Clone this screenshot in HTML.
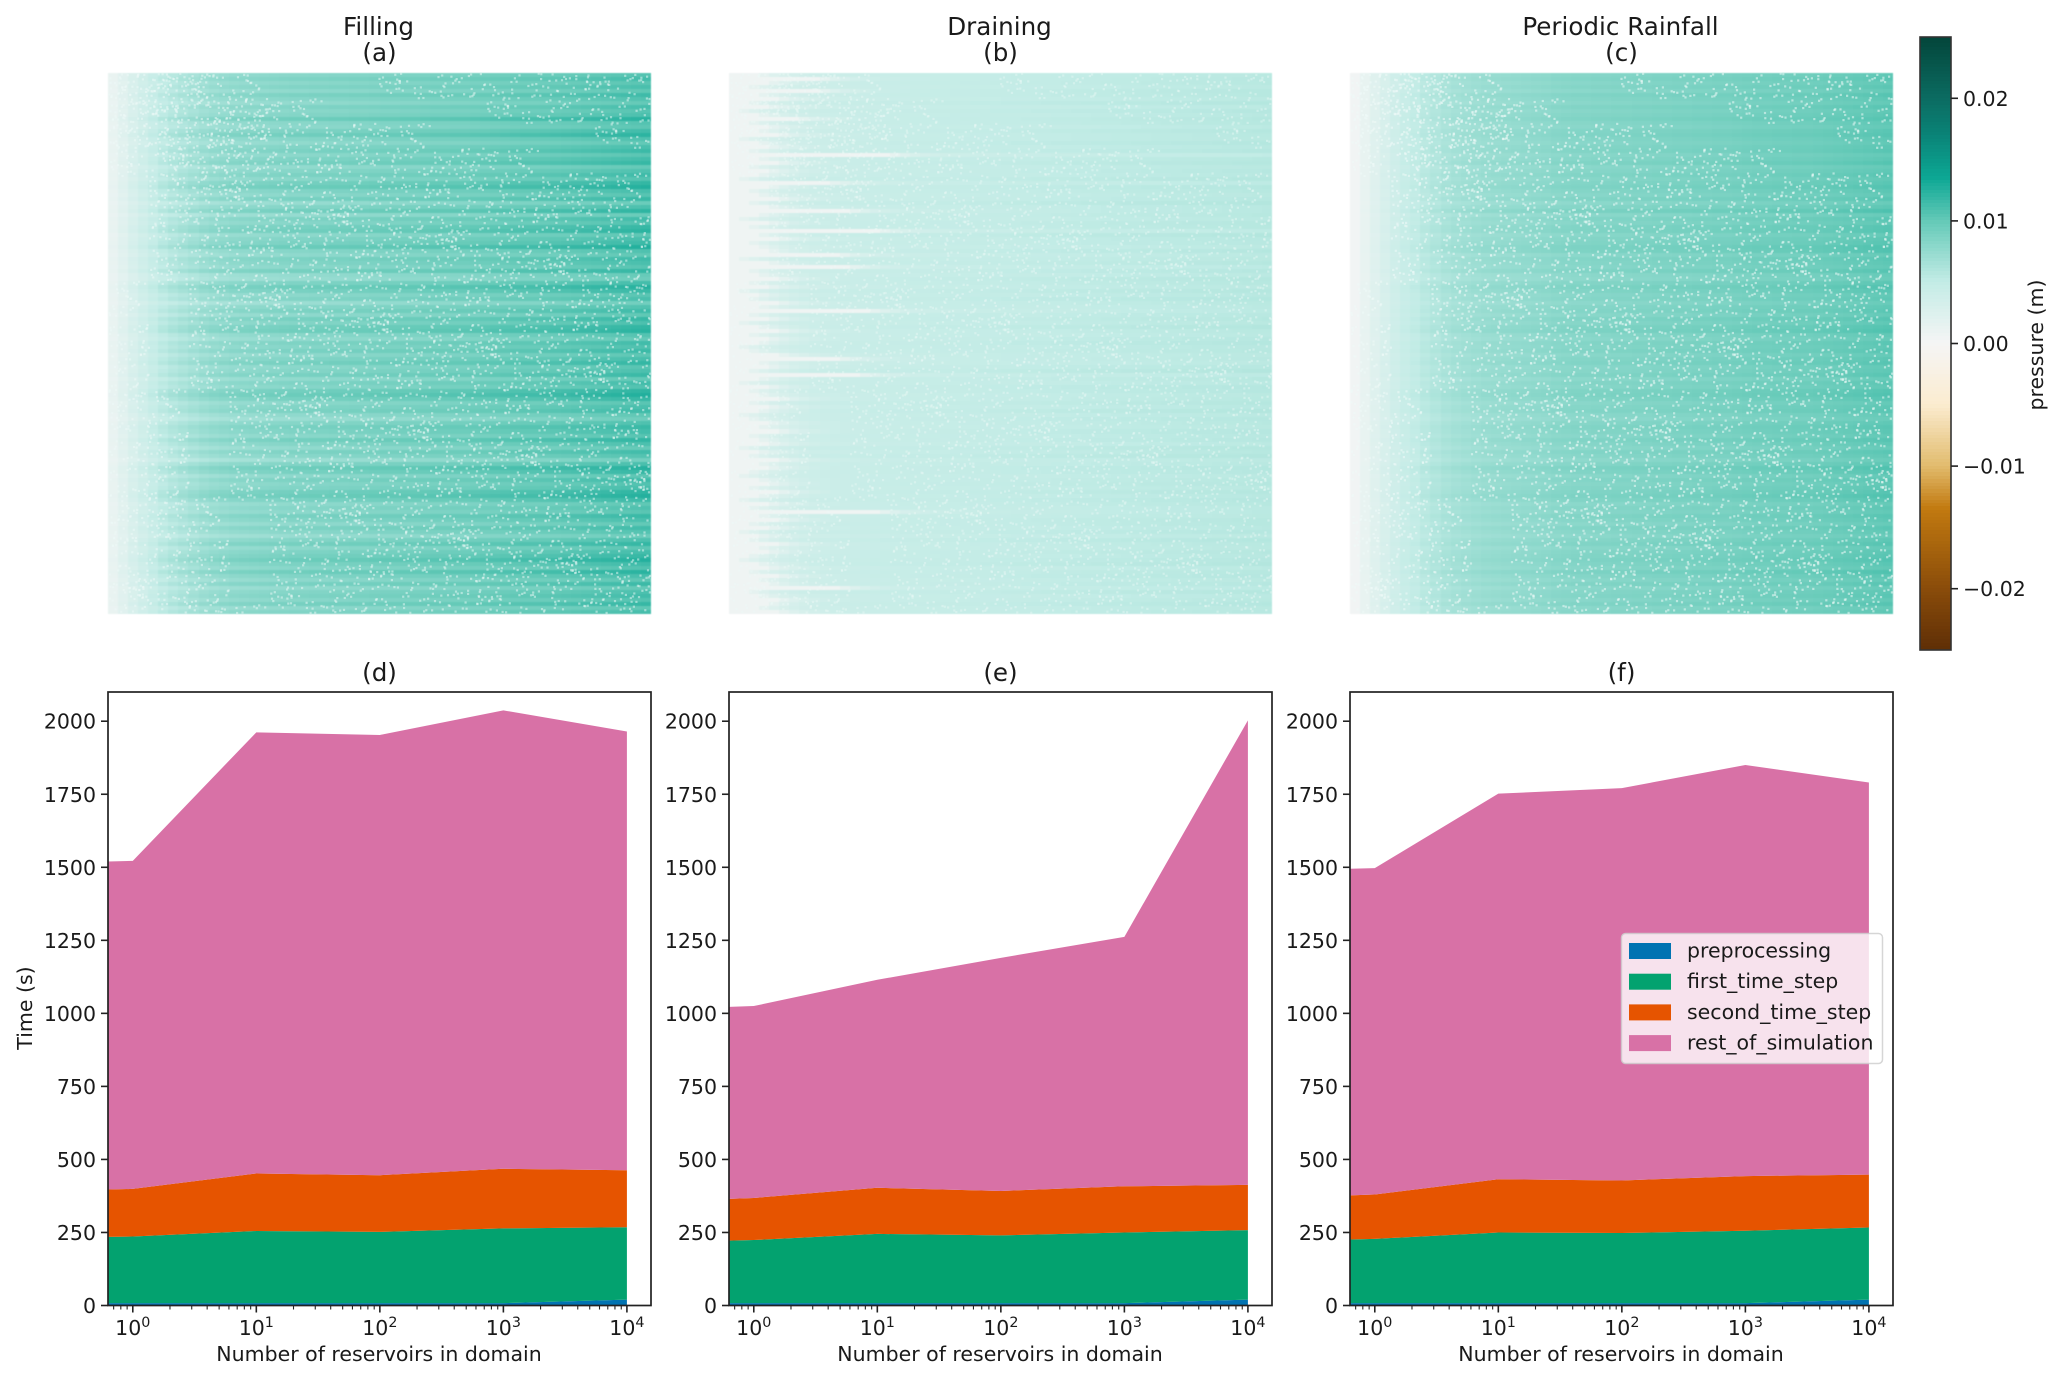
<!DOCTYPE html>
<html lang="en">
<head>
<meta charset="utf-8">
<title>Reservoir pressure and run time</title>
<style>
html,body{margin:0;padding:0;background:#fff;width:2067px;height:1380px;overflow:hidden}
svg{display:block;position:absolute;left:0;top:0}
text{font-family:"DejaVu Sans","Liberation Sans",sans-serif;fill:#1a1a1a}
</style>
</head>
<body>
<svg id="figure" xmlns="http://www.w3.org/2000/svg" width="2067" height="1380" viewBox="0 0 2067 1380"></svg>
<script>
/* ---------- stack chart data ---------- */
const reservoirCounts = [0.63, 1, 10, 100, 1000, 10000];
const seriesNames = ["preprocessing", "first_time_step", "second_time_step", "rest_of_simulation"];
const seriesColors = ["#0173b2", "#03a26f", "#e65400", "#d871a6"];
const fillingPreprocessing = [8, 8, 8, 8, 8, 20];
const fillingFirstStep = [227, 228, 247, 244, 256, 248];
const fillingSecondStep = [162, 163, 197, 194, 204, 195];
const fillingRest = [1123, 1123, 1510, 1507, 1569, 1502];
const drainingPreprocessing = [8, 8, 8, 8, 8, 20];
const drainingFirstStep = [214, 216, 237, 232, 242, 238];
const drainingSecondStep = [143, 144, 158, 152, 158, 155];
const drainingRest = [657, 657, 712, 798, 854, 1590];
const rainfallPreprocessing = [8, 8, 8, 8, 8, 20];
const rainfallFirstStep = [218, 220, 242, 240, 248, 247];
const rainfallSecondStep = [151, 152, 182, 180, 187, 181];
const rainfallRest = [1118, 1117, 1320, 1343, 1407, 1342];
const timeTicks = [0, 250, 500, 750, 1000, 1250, 1500, 1750, 2000];
const decadeTicks = [0, 1, 2, 3, 4];
const panelTitlesTop = ["Filling", "Draining", "Periodic Rainfall"];
const panelLettersTop = ["(a)", "(b)", "(c)"];
const panelLettersBottom = ["(d)", "(e)", "(f)"];

/* ---------- heatmap data: pressure, in units of 0.0001 m ---------- */
const fillingColumnProfile = [12,20,29,37,45,52,57,61,65,69,72,74,76,77,78,79,80,81,82,82,83,83,84,84,85,85,86,87,87,88,88,89,90,90,91,91,92,93,94,95,96,97,97,98,99,100,101,102,103,104,105,106,107,108];
const drainingColumnProfile = [6,16,24,30,34,37,40,41,42,43,44,44,45,45,46,46,46,47,47,47,48,48,48,49,49,49,50,50,50,50,51,51,51,51,52,52,52,52,53,53,53,53,54,54,54,54,55,55,55,55,56,56,56,56];
const rainfallColumnProfile = [4,13,22,30,38,45,50,55,59,63,66,68,70,72,73,74,75,76,77,78,80,81,82,82,83,83,84,84,85,85,86,86,87,87,88,88,89,89,90,91,92,92,93,93,94,94,95,96,97,98,99,100,101,102];
const fillingRowGain = [96,108,92,104,88,112,98,84,106,94,102,128,96,90,110,126,100,86,104,114,92,108,118,84,100,112,96,120,132,106,94,116,78,102,124,80,110,98,118,126,90,106,114,134,100,88,112,104,94,120,82,76,108,130,116,92,104,72,98,112,88,118,102,122,128,96,84,110,100,114,90,106,120,94,102,116,86,108,98,124,134,118,92,104,112,88,74,100,116,108,94,122,102,84,110,96,70,104,130,118,90,112,98,106,124,132,114,88,100,92,116,104,86,110,96,76,102,120,92,108,118,132,112,98,128,106,90,114,84,102,110,96,118,88,106];
const drainingRowGain = [98,102,100,96,104,100,98,103,97,101,99,104,100,97,102,100,98,103,99,101,96,100,104,98,101,99,102,97,103,100,98,101,104,99,103,100,97,102,100,98,104,101,99,96,103,100,98,102,99,101,97,104,100,98,102,99,103,100,97,101,99,102,98,104,100,97,101,103,99,100,98,102,96,101,104,99,100,97,103,101,98,100,102,99,104,97,101,100,98,103,99,101,97,102,100,104,98,99,103,101,97,100,102,98,104,99,101,100,97,103,98,102,100,99,101,96,103,100,98,102,99,101,104,97,100,103,98,101,99,102,97,100,103,98,101];
const rainfallRowGain = [99,102,97,101,95,104,100,96,103,98,101,105,99,96,102,104,100,97,101,103,96,100,105,95,99,103,98,102,106,101,97,103,93,100,109,94,102,98,104,105,96,101,103,108,107,95,102,100,97,104,94,92,101,107,103,97,100,93,99,102,96,104,99,105,108,98,95,102,100,103,96,101,104,97,99,103,94,101,98,105,107,103,96,100,102,95,92,99,103,101,97,104,99,94,102,98,92,100,108,104,96,102,98,101,104,108,103,95,100,97,103,100,94,102,98,93,100,104,96,101,103,106,102,98,108,101,96,103,94,100,102,97,104,95,100];
const drainingRowLag = [2,8,3,1,8,2,4,1,3,0,2,6,1,3,2,4,0,2,3,1,15,2,4,1,3,2,0,9,3,1,2,4,1,3,11,2,0,3,1,14,2,4,1,2,3,10,0,3,11,1,2,4,1,3,0,2,1,4,2,13,1,3,0,2,4,1,3,2,0,1,4,10,2,3,1,12,2,0,3,1,2,4,1,3,2,0,1,3,2,4,1,2,3,0,2,1,4,2,3,1,0,2,3,1,4,2,0,3,1,14,2,4,1,3,0,2,1,4,2,3,1,0,2,3,1,4,2,3,10,1,2,4,3,2,4];
const missingCellColumns = [12,871,334,590,146,722,455,963,208,639,77,518,801,290,946,393,684,33,557,176,829,432,715,268,604,91,987,360,743,125,486,912,245,668,51,539,790,312,878,421,159,633,26,975,374,706,483,851,219,566,104,757,342,925,61,611,290,838,178,505,693,402,944,17,532,265,780,138,619,896,349,471,68,735,203,580,998,312,656,440,119,827,521,38,762,286,907,165,643,383,504,84,951,228,698,347,815,142,572,431,7,889,264,620,733,196,468,920,55,345,677,513,246,804,109,382,590,956,22,721,157,449,866,304,638,92,532,779,213,994,417,660,131,348,885,46,599,263,748,476,168,912,325,71,626,838,234,553,395,703,19,981,282,514,857,121,669,438,772,207,330,940,64,586,801,173,492,726,251,619,36,968,407,845,118,544,691,296,923,370,83,615,459,789,189,527,974,338,652,14,866,223,741,401,150,578,907,275,490,697,58,824,362,611,134,936,248,753,425,99,564,880,313,675,201,508,43,792,956,377,144,629,861,270,535,711,87,419,903,183,648,321,769,452,26,592,834,238,986,116];
const missingCellRows = [44,913,271,608,152,756,389,27,841,493,665,118,962,330,574,206,799,431,71,912,268,643,505,15,736,183,877,352,590,949,96,421,688,237,806,525,143,374,979,61,714,298,867,446,128,601,934,253,772,39,516,849,170,687,408,991,226,563,82,745,324,898,471,137,659,20,813,384,547,952,205,696,109,431,838,275,620,54,977,349,726,168,503,889,242,615,9,781,436,322,941,187,558,74,860,293,672,415,118,754,527,966,31,345,821,199,637,476,88,905,262,591,723,149,384,998,47,680,216,835,529,103,452,767,318,926,65,584,241,871,162,699,410,953,35,507,788,126,634,283,866,473,12,741,356,592,928,194,655,79,819,440,267,546,983,131,703,371,24,856,488,619,225,937,98,764,339,571,182,895,423,646,57,792,308,514,970,141,683,251,848,400,6,727,533,176,915,362,604,86,778,449,295,958,124,670,217,842,541,33,391,729,156,884,464,613,278,74,996,347,802,190,557,428,909,63,642,316,775,501,238,861,19,584,948,113,694,375,226,826,459,537,92,743,297,976,164,618,412,855];

/* ---------- colormap: pressure (m) to colour ---------- */
const colorbarStopValues = [-0.025,-0.02,-0.0135,-0.01,-0.005,0,0.005,0.01,0.0135,0.017,0.02,0.025];
const colorbarStopColors = ["#5f2f06","#8a4c0a","#c27a10","#e2bc6e","#fbecd0","#f5f5f5","#c3ece6","#63c9b7","#0ca794","#0a8377","#0b6b61","#03453a"];
const colorbarTicks = [0.02, 0.01, 0, -0.01, -0.02];
const colorbarTickLabels = ["0.02", "0.01", "0.00", "\u22120.01", "\u22120.02"];

const NS = "http://www.w3.org/2000/svg";
const svg = document.getElementById("figure");
function el(tag, attrs, parent) {
  const n = document.createElementNS(NS, tag);
  for (const k in attrs) n.setAttribute(k, attrs[k]);
  (parent || svg).appendChild(n);
  return n;
}
function named(n, name) {
  
  
  return n;
}
function hexRgb(h) { return [1, 3, 5].map(i => parseInt(h.substr(i, 2), 16)); }
function cmap(v) {
  const sv = colorbarStopValues, sc = colorbarStopColors;
  if (v <= sv[0]) return sc[0];
  for (let i = 1; i < sv.length; i++) {
    if (v <= sv[i]) {
      const t = (v - sv[i - 1]) / (sv[i] - sv[i - 1]);
      const a = hexRgb(sc[i - 1]), b = hexRgb(sc[i]);
      return "rgb(" + a.map((x, j) => Math.round(x + (b[j] - x) * t)).join(",") + ")";
    }
  }
  return sc[sc.length - 1];
}

const PANEL_LEFT = [108, 729, 1350];
const PANEL_W = 543;
const HEAT_TOP = 72.5, HEAT_BOTTOM = 614;
const AX_TOP = 692, AX_BOTTOM = 1305.5;
const X_MIN_LOG = Math.log10(0.63), X_MAX_LOG = 4.195;
const Y_MAX = 2100;
const FS = 20.5, TITLE_FS = 24.6;

function label(txt, x, y, size, anchor, parent, name) {
  const t = el("text", { x: x, y: y, "font-size": size, "text-anchor": anchor || "start" }, parent);
  t.textContent = txt;
  
  
  return t;
}

/* ---------- heatmaps ---------- */
const heatmapColumnProfiles = [fillingColumnProfile, drainingColumnProfile, rainfallColumnProfile];
const heatmapRowGains = [fillingRowGain, drainingRowGain, rainfallRowGain];
const heatmapRowLags = [null, drainingRowLag, null];
const rowContrast = [0.5, 1, 0.7];
const missingOpacity = [0.5, 0.4, 0.55];
const TILES = 5;

function drawHeatmap(p) {
  const left = PANEL_LEFT[p], cols = heatmapColumnProfiles[p], rows = heatmapRowGains[p], lags = heatmapRowLags[p];
  const g = named(el("g", { "shape-rendering": "crispEdges", style: "filter:blur(0.6px)" }), "heatmap-" + "abc"[p]);
  const sx = c => Math.round(left + c / cols.length * PANEL_W);
  const sy = r => Math.round(HEAT_TOP + r / rows.length * (HEAT_BOTTOM - HEAT_TOP));
  for (let r = 0; r < rows.length; r++) {
    const lag = lags ? lags[r] : 0;
    const y0 = sy(r), h = sy(r + 1) - y0;
    const gain = 1 + (rows[r] - 100) / 100 * rowContrast[p];
    for (let c = 0; c < cols.length; c++) {
      const idx = Math.max(c - lag, 0);
      const v = cols[idx] * gain * 1e-4;
      const x0 = sx(c);
      const cell = el("rect", { x: x0, y: y0, width: sx(c + 1) - x0, height: h, fill: cmap(v) }, g);
      
      
    }
  }
  const dots = named(el("g", { fill: "#eef9f7", "fill-opacity": missingOpacity[p] }), "missing-cells-" + "abc"[p]);
  const span = TILES * 1000;
  for (let i = 0; i < missingCellColumns.length; i++) {
    for (let tx = 0; tx < TILES; tx++) {
      for (let ty = 0; ty < TILES; ty++) {
        const fx = ((missingCellColumns[i] + tx * 1000 + ty * 370) % span) / span;
        const fy = ((missingCellRows[i] + ty * 1000 + tx * 230) % span) / span;
        const d = el("rect", { x: (left + fx * (PANEL_W - 2)).toFixed(1), y: (HEAT_TOP + fy * (HEAT_BOTTOM - HEAT_TOP - 2)).toFixed(1), width: 2.2, height: 2.2 }, dots);
        
        
      }
    }
  }
  label(panelTitlesTop[p], left + PANEL_W / 2 - 1, 35, TITLE_FS, "middle", svg, "panel-title-" + "abc"[p]);
  label(panelLettersTop[p], left + PANEL_W / 2, 61, TITLE_FS, "middle", svg, "panel-letter-" + "abc"[p]);
}
[0, 1, 2].forEach(drawHeatmap);

/* ---------- stacked area panels ---------- */
const panelSeries = [
  [fillingPreprocessing, fillingFirstStep, fillingSecondStep, fillingRest],
  [drainingPreprocessing, drainingFirstStep, drainingSecondStep, drainingRest],
  [rainfallPreprocessing, rainfallFirstStep, rainfallSecondStep, rainfallRest]
];
function drawStack(p) {
  const left = PANEL_LEFT[p], key = "def"[p];
  const sx = x => left + (Math.log10(x) - X_MIN_LOG) / (X_MAX_LOG - X_MIN_LOG) * PANEL_W;
  const sy = v => AX_BOTTOM - v / Y_MAX * (AX_BOTTOM - AX_TOP);
  const g = named(el("g", {}), "stack-chart-" + key);
  let base = reservoirCounts.map(() => 0);
  panelSeries[p].forEach((vals, s) => {
    const top = base.map((b, i) => b + vals[i]);
    let d = "";
    reservoirCounts.forEach((x, i) => { d += (i ? "L" : "M") + sx(x).toFixed(2) + " " + sy(top[i]).toFixed(2); });
    for (let i = reservoirCounts.length - 1; i >= 0; i--) d += "L" + sx(reservoirCounts[i]).toFixed(2) + " " + sy(base[i]).toFixed(2);
    const area = el("path", { d: d + "Z", fill: seriesColors[s] }, g);
    
    
    base = top;
  });
  const frame = el("rect", { x: left, y: AX_TOP, width: PANEL_W, height: AX_BOTTOM - AX_TOP, fill: "none", stroke: "#222", "stroke-width": 1.7 }, g);
  
  

  timeTicks.forEach(v => {
    const y = sy(v);
    const t = el("line", { x1: left - 7, x2: left, y1: y, y2: y, stroke: "#222", "stroke-width": 1.6 }, g);
    
    
    label(String(v), left - 12, y + 7.5, FS, "end", g, "y-tick-label");
  });
  decadeTicks.forEach(k => {
    const x = sx(Math.pow(10, k));
    const t = el("line", { x1: x, x2: x, y1: AX_BOTTOM, y2: AX_BOTTOM + 7, stroke: "#222", "stroke-width": 1.6 }, g);
    
    
    const lab = el("text", { x: x, y: 1335, "font-size": FS, "text-anchor": "middle" }, g);
    
    
    lab.appendChild(document.createTextNode("10"));
    const sup = el("tspan", { dy: -8, "font-size": 14.3 }, lab);
    sup.textContent = String(k);
  });
  for (let k = -1; k <= 4; k++) {
    for (let m = 2; m <= 9; m++) {
      const val = m * Math.pow(10, k);
      const lg = Math.log10(val);
      if (lg < X_MIN_LOG || lg > X_MAX_LOG) continue;
      const x = sx(val);
      const t = el("line", { x1: x, x2: x, y1: AX_BOTTOM, y2: AX_BOTTOM + 4, stroke: "#222", "stroke-width": 1.1 }, g);
      
      
    }
  }
  label("Number of reservoirs in domain", left + PANEL_W / 2 - 0.5, 1361, FS, "middle", g, "x-axis-title");
  label(panelLettersBottom[p], left + PANEL_W / 2, 681, TITLE_FS, "middle", g, "panel-letter-" + key);
}
[0, 1, 2].forEach(drawStack);

const yTitle = label("Time (s)", 0, 0, FS, "middle", svg, "y-axis-title");
yTitle.setAttribute("transform", "translate(32 1008) rotate(-90)");

/* ---------- legend ---------- */
const legend = named(el("g", {}), "legend");
const legendBox = el("rect", { x: 1621.5, y: 933.5, width: 261, height: 130, rx: 4, ry: 4, fill: "#fff", "fill-opacity": 0.8, stroke: "#ccc", "stroke-opacity": 0.8, "stroke-width": 1.5 }, legend);


seriesNames.forEach((name, i) => {
  const y = 943 + i * 30.7;
  const sw = el("rect", { x: 1629, y: y, width: 42, height: 16, fill: seriesColors[i] }, legend);
  
  
  label(name, 1687, y + 14.5, FS, "start", legend, "legend-entry");
});

/* ---------- colorbar ---------- */
const CB_LEFT = 1920, CB_RIGHT = 1951, CB_TOP = 37, CB_BOTTOM = 650, CB_MAX = 0.025, CB_STEPS = 180;
const cbY = v => CB_TOP + (CB_MAX - v) / (2 * CB_MAX) * (CB_BOTTOM - CB_TOP);
const cb = named(el("g", {}), "colorbar");
const cbRamp = named(el("g", { "shape-rendering": "crispEdges" }, cb), "colorbar-ramp");
for (let i = 0; i < CB_STEPS; i++) {
  const v1 = CB_MAX - i / CB_STEPS * 2 * CB_MAX;
  const v2 = CB_MAX - (i + 1) / CB_STEPS * 2 * CB_MAX;
  const s = el("rect", { x: CB_LEFT, y: Math.floor(cbY(v1)), width: CB_RIGHT - CB_LEFT, height: Math.ceil(cbY(v2)) - Math.floor(cbY(v1)) + 0.5, fill: cmap((v1 + v2) / 2) }, cbRamp);
  
  
}
const cbFrame = el("rect", { x: CB_LEFT, y: CB_TOP, width: CB_RIGHT - CB_LEFT, height: CB_BOTTOM - CB_TOP, fill: "none", stroke: "#333", "stroke-width": 1.6 }, cb);


colorbarTicks.forEach((v, i) => {
  const y = cbY(v);
  const t = el("line", { x1: CB_RIGHT, x2: CB_RIGHT + 7, y1: y, y2: y, stroke: "#222", "stroke-width": 1.6 }, cb);
  
  
  label(colorbarTickLabels[i], 1963, y + 7.5, FS, "start", cb, "colorbar-tick-label");
});
const cbTitle = label("pressure (m)", 0, 0, FS, "middle", cb, "colorbar-title");
cbTitle.setAttribute("transform", "translate(2043 345) rotate(-90)");
</script>
</body>
</html>
